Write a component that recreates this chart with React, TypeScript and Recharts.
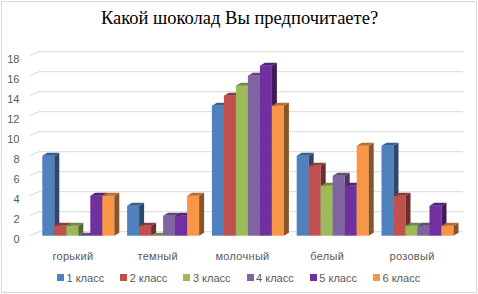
import React from 'react'
import { BarChart, Bar, XAxis, YAxis, CartesianGrid } from 'recharts'

const categories = ['горький', 'темный', 'молочный', 'белый', 'розовый']
const seriesNames = ['1 класс', '2 класс', '3 класс', '4 класс', '5 класс', '6 класс']
const class1 = [8, 3, 13, 8, 9]
const class2 = [1, 1, 14, 7, 4]
const class3 = [1, 0, 15, 5, 1]
const class4 = [0, 2, 16, 6, 1]
const class5 = [4, 2, 17, 5, 3]
const class6 = [4, 4, 13, 9, 1]
const yTicks = [0, 2, 4, 6, 8, 10, 12, 14, 16, 18]

const COLORS = ['#4F81BD', '#C0504D', '#9BBB59', '#8064A2', '#7030A0', '#F79646']
const seriesValues = [class1, class2, class3, class4, class5, class6]

const data = categories.map((name, i) => {
  const row: Record<string, any> = { name }
  seriesValues.forEach((vals, s) => {
    row['s' + s] = vals[i]
  })
  return row
})

const TEXT = '#595959'
const FONT = '"Liberation Sans", Arial, sans-serif'
const DX = 5
const DY = 3

function shade(hex: string, k: number) {
  const n = parseInt(hex.slice(1), 16)
  const r = Math.round(((n >> 16) & 255) * k)
  const g = Math.round(((n >> 8) & 255) * k)
  const b = Math.round((n & 255) * k)
  return `rgb(${r},${g},${b})`
}

function makeShape(color: string) {
  const top = shade(color, 0.74)
  const side = shade(color, 0.56)
  return (props: any) => {
    const { x, y, width: w, height: h } = props
    if (x == null || y == null) return null
    return (
      <g>
        <rect x={x} y={y} width={w} height={Math.max(h, 0)} fill={color} />
        <polygon
          points={`${x + w},${y} ${x + w + DX},${y - DY} ${x + w + DX},${y + h - DY} ${x + w},${y + h}`}
          fill={side}
        />
        <polygon
          points={`${x},${y} ${x + DX},${y - DY} ${x + w + DX},${y - DY} ${x + w},${y}`}
          fill={top}
        />
      </g>
    )
  }
}

function gridLine(props: any) {
  const { x1, x2, y1, key } = props
  return (
    <g key={key}>
      <line x1={x1 - 4.5} y1={y1} x2={x1 + 4.5} y2={y1 - 4} stroke="#D9D9D9" strokeWidth={1} />
      <line x1={x1 + 4.5} y1={y1 - 4} x2={x2 + 4.5} y2={y1 - 4} stroke="#D9D9D9" strokeWidth={1} />
    </g>
  )
}

function YTick({ y, payload }: any) {
  return (
    <text x={19.5} y={y + 3.5} dy="0.355em" textAnchor="end" fill={TEXT} fontSize={11} fontFamily={FONT}>
      {payload.value}
    </text>
  )
}

function XTick({ x, payload }: any) {
  return (
    <text x={x - 4} y={256} dy="0.355em" textAnchor="middle" fill={TEXT} fontSize={11} fontFamily={FONT} letterSpacing={0.3}>
      {payload.value}
    </text>
  )
}

export default function App() {
  return (
    <div style={{ position: 'absolute', left: 0, top: 0, width: 478, height: 294, background: '#fff' }}>
      <div
        style={{
          position: 'absolute', left: 1, top: 1, width: 476, height: 292,
          boxSizing: 'border-box', border: '1px solid #D9D9D9',
        }}
      />
      <div
        style={{
          position: 'absolute', left: 0, top: 6, width: 479, textAlign: 'center',
          fontFamily: '"Liberation Serif", "Times New Roman", serif', fontSize: 18.5, color: '#000',
          lineHeight: '24px',
        }}
      >
        Какой шоколад Вы предпочитаете?
      </div>
      <div style={{ position: 'absolute', left: 0, top: 0 }}>
        <BarChart
          width={478}
          height={294}
          data={data}
          margin={{ top: 55.7, right: 19.5, left: 0, bottom: 28.3 }}
          barGap={0}
          barCategoryGap={7.8}
        >
          <CartesianGrid vertical={false} horizontal={gridLine} />
          <XAxis dataKey="name" height={30} axisLine={false} tickLine={false} tick={<XTick />} interval={0} />
          <YAxis
            width={34.5}
            domain={[0, 18]}
            ticks={yTicks}
            axisLine={false}
            tickLine={false}
            tick={<YTick />}
            interval={0}
          />
          {seriesNames.map((n, s) => (
            <Bar key={n} dataKey={'s' + s} name={n} fill={COLORS[s]} shape={makeShape(COLORS[s])} isAnimationActive={false} />
          ))}
        </BarChart>
      </div>
      {seriesNames.map((n, s) => (
        <div
          key={n}
          style={{
            position: 'absolute', left: 57 + s * 63.2, top: 270, height: 15,
            display: 'flex', alignItems: 'center', fontFamily: FONT, fontSize: 11, color: TEXT,
            whiteSpace: 'nowrap',
          }}
        >
          <span style={{ display: 'inline-block', width: 7, height: 7, background: COLORS[s], marginRight: 2.5 }} />
          <span>{n}</span>
        </div>
      ))}
    </div>
  )
}
